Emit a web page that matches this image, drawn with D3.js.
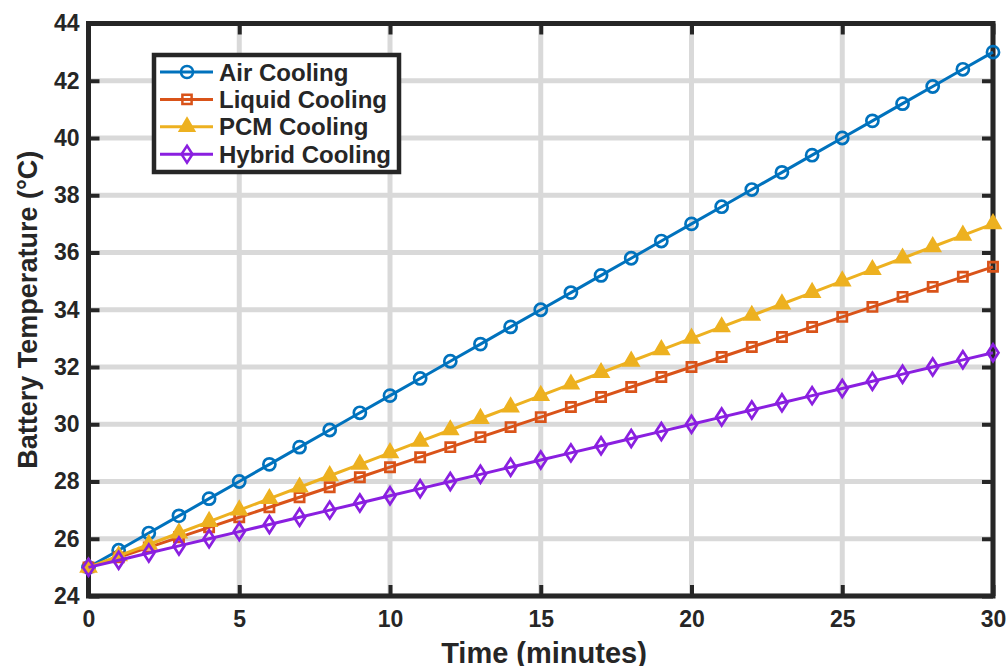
<!DOCTYPE html>
<html>
<head>
<meta charset="utf-8">
<script src="https://cdn.jsdelivr.net/npm/d3@7"></script>
<style>
  body { margin: 0; background: #fff; }
  text { font-family: "Liberation Sans", Arial, sans-serif; font-weight: bold; fill: #262626; }
</style>
</head>
<body>
<div id="chart"></div>
<script>
// DATA
var time = d3.range(0, 31); // minutes 0..30
var airCooling = [25, 25.6, 26.2, 26.8, 27.4, 28, 28.6, 29.2, 29.8, 30.4, 31, 31.6, 32.2, 32.8, 33.4, 34,
  34.6, 35.2, 35.8, 36.4, 37, 37.6, 38.2, 38.8, 39.4, 40, 40.6, 41.2, 41.8, 42.4, 43];
var liquidCooling = [25, 25.35, 25.7, 26.05, 26.4, 26.75, 27.1, 27.45, 27.8, 28.15, 28.5, 28.85, 29.2, 29.55, 29.9, 30.25,
  30.6, 30.95, 31.3, 31.65, 32, 32.35, 32.7, 33.05, 33.4, 33.75, 34.1, 34.45, 34.8, 35.15, 35.5];
var pcmCooling = [25, 25.4, 25.8, 26.2, 26.6, 27, 27.4, 27.8, 28.2, 28.6, 29, 29.4, 29.8, 30.2, 30.6, 31,
  31.4, 31.8, 32.2, 32.6, 33, 33.4, 33.8, 34.2, 34.6, 35, 35.4, 35.8, 36.2, 36.6, 37];
var hybridCooling = [25, 25.25, 25.5, 25.75, 26, 26.25, 26.5, 26.75, 27, 27.25, 27.5, 27.75, 28, 28.25, 28.5, 28.75,
  29, 29.25, 29.5, 29.75, 30, 30.25, 30.5, 30.75, 31, 31.25, 31.5, 31.75, 32, 32.25, 32.5];
var xTicks = [0, 5, 10, 15, 20, 25, 30];
var yTicks = [24, 26, 28, 30, 32, 34, 36, 38, 40, 42, 44];

var series = [
  {name: "Air Cooling", values: airCooling, color: "#0072BD", marker: "circle"},
  {name: "Liquid Cooling", values: liquidCooling, color: "#D95319", marker: "square"},
  {name: "PCM Cooling", values: pcmCooling, color: "#EDB120", marker: "triangle"},
  {name: "Hybrid Cooling", values: hybridCooling, color: "#8A1FE0", marker: "diamond"}
];

// SETUP
var width = 1008, height = 666;
var margin = {left: 88.5, right: width - 993, top: 23.5, bottom: height - 596};

var svg = d3.select("#chart").append("svg")
  .attr("width", width)
  .attr("height", height);

var x = d3.scaleLinear().domain([0, 30]).range([margin.left, width - margin.right]);
var y = d3.scaleLinear().domain([24, 44]).range([height - margin.bottom, margin.top]);

// grid
var grid = svg.append("g");
grid.selectAll(".gx").data(xTicks).enter().append("line")
  .attr("x1", d => x(d)).attr("x2", d => x(d))
  .attr("y1", y(24)).attr("y2", y(44))
  .attr("stroke", "#d9d9d9").attr("stroke-width", 5);
grid.selectAll(".gy").data(yTicks).enter().append("line")
  .attr("y1", d => y(d)).attr("y2", d => y(d))
  .attr("x1", x(0)).attr("x2", x(30))
  .attr("stroke", "#d9d9d9").attr("stroke-width", 5);

// axes (ticks inward, box on all sides)
var tickLen = 11;
function styleAxis(g) {
  g.select(".domain").remove();
  g.selectAll(".tick line").attr("stroke", "#262626").attr("stroke-width", 4);
  g.selectAll(".tick text").style("font-size", "23px").attr("fill", "#262626");
}
svg.append("g").attr("transform", "translate(0," + y(24) + ")")
  .call(d3.axisBottom(x).tickValues(xTicks).tickSizeInner(-tickLen).tickSizeOuter(0).tickPadding(15))
  .call(styleAxis);
svg.append("g").attr("transform", "translate(" + x(0) + ",0)")
  .call(d3.axisLeft(y).tickValues(yTicks).tickSizeInner(-tickLen).tickSizeOuter(0).tickPadding(9))
  .call(styleAxis);
svg.append("g").attr("transform", "translate(0," + y(44) + ")")
  .call(d3.axisTop(x).tickValues(xTicks).tickSizeInner(-tickLen).tickSizeOuter(0).tickFormat(""))
  .call(styleAxis);
svg.append("g").attr("transform", "translate(" + x(30) + ",0)")
  .call(d3.axisRight(y).tickValues(yTicks).tickSizeInner(-tickLen).tickSizeOuter(0).tickFormat(""))
  .call(styleAxis);

svg.append("rect")
  .attr("x", x(0)).attr("y", y(44))
  .attr("width", x(30) - x(0)).attr("height", y(24) - y(44))
  .attr("fill", "none").attr("stroke", "#262626").attr("stroke-width", 5);

// labels
svg.append("text")
  .attr("x", 544).attr("y", 663)
  .attr("text-anchor", "middle").style("font-size", "29px")
  .text("Time (minutes)");
svg.append("text")
  .attr("transform", "translate(37," + (y(24) + y(44)) / 2 + ") rotate(-90)")
  .attr("text-anchor", "middle").style("font-size", "27px")
  .text("Battery Temperature (°C)");

// markers
var symbolMap = {
  circle: d3.symbolCircle,
  square: d3.symbolSquare,
  triangle: d3.symbolTriangle
};
function markerPath(type) {
  if (type === "diamond") return "M0,-8.5L5.5,0L0,8.5L-5.5,0Z";
  var size = {circle: 115, square: 85, triangle: 85}[type];
  return d3.symbol().type(symbolMap[type]).size(size)();
}

var line = d3.line()
  .x((d, i) => x(time[i]))
  .y(d => y(d));

series.forEach(function(s) {
  var g = svg.append("g");
  g.append("path")
    .attr("d", line(s.values))
    .attr("fill", "none")
    .attr("stroke", s.color)
    .attr("stroke-width", 3);
  g.selectAll("path.m").data(s.values).enter().append("path")
    .attr("class", "m")
    .attr("d", markerPath(s.marker))
    .attr("transform", (d, i) => "translate(" + x(time[i]) + "," + y(d) + ")")
    .attr("fill", s.marker === "triangle" ? s.color : "none")
    .attr("stroke", s.color)
    .attr("stroke-width", 2.7);
});

// legend
var legend = svg.append("g");
legend.append("rect")
  .attr("x", 154).attr("y", 55)
  .attr("width", 245).attr("height", 117)
  .attr("fill", "#fff").attr("stroke", "#262626").attr("stroke-width", 4.5);
series.forEach(function(s, i) {
  var ly = 72 + i * 27.4;
  legend.append("line")
    .attr("x1", 160).attr("x2", 213).attr("y1", ly).attr("y2", ly)
    .attr("stroke", s.color).attr("stroke-width", 3);
  legend.append("path")
    .attr("d", markerPath(s.marker))
    .attr("transform", "translate(187," + ly + ")")
    .attr("fill", s.marker === "triangle" ? s.color : "none")
    .attr("stroke", s.color).attr("stroke-width", 2.5);
  legend.append("text")
    .attr("x", 219).attr("y", ly + 8.5)
    .style("font-size", "24px")
    .text(s.name);
});
</script>
</body>
</html>
